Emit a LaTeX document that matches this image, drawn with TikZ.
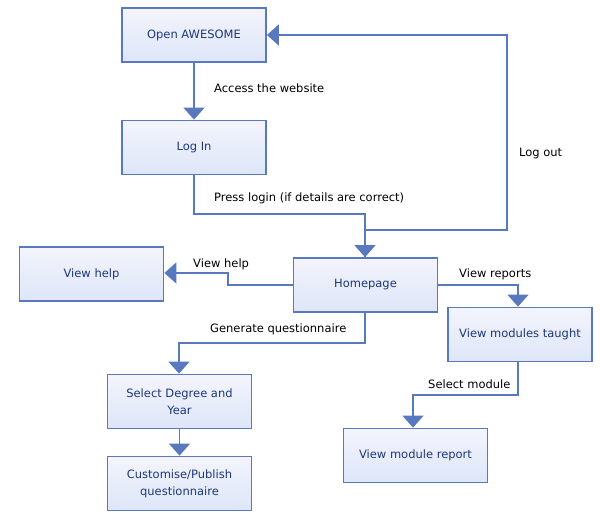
\documentclass[tikz,border=0pt]{standalone}
\usepackage{fontspec}
\setmainfont{DejaVu Sans}
\usetikzlibrary{arrows.meta}
\definecolor{bordc}{RGB}{88,120,192}
\definecolor{txtc}{RGB}{28,56,120}
\definecolor{topc}{RGB}{244,244,252}
\definecolor{botc}{RGB}{221,230,248}
\tikzset{
  box/.style={draw=bordc, line width=1.8pt, top color=topc, bottom color=botc,
    minimum width=144pt, minimum height=54pt, inner sep=0pt, align=center,
    text=txtc, font=\fontsize{11.5}{17}\selectfont},
  conn/.style={draw=bordc, line width=1.6pt, -{Triangle[length=12pt,width=21pt]}},
  lab/.style={font=\fontsize{11.5}{14}\selectfont, text=black, inner sep=0pt}
}
\begin{document}
\begin{tikzpicture}[x=1pt,y=-1pt]
\useasboundingbox (0,0) rectangle (600,522);
\node[box] (open) at (194,35) {Open AWESOME};
\node[box] (login) at (194,147.5) {Log In};
\node[box] (home) at (365.5,285) {Homepage};
\node[box] (help) at (91.5,274) {View help};
\node[box] (mods) at (520,334.5) {View modules taught};
\node[box] (sel) at (179.5,401.5) {Select Degree and\\Year};
\node[box] (cust) at (179.5,483.5) {Customise/Publish\\questionnaire};
\node[box] (rep) at (415.5,455.5) {View module report};

\coordinate (c1) at (194,214);
\coordinate (c2) at (365,214);
\coordinate (d1) at (365,230);
\coordinate (d2) at (507,230);
\coordinate (d3) at (507,35);
\coordinate (h1) at (228,285);
\coordinate (h2) at (228,273);
\coordinate (g1) at (365,343);
\coordinate (g2) at (179,343);
\coordinate (r1) at (518,285);
\coordinate (s1) at (518,395);
\coordinate (s2) at (413,395);

\draw[conn] (open.south) -- (login.north);
\draw[conn] (login.south) -- (c1) -- (c2) -- (home.north -| c2);
\draw[conn] (home.north -| d1) -- (d1) -- (d2) -- (d3) -- (open.east);
\draw[conn] (home.west) -- (h1) -- (h2) -- (help.east |- h2);
\draw[conn] (home.south -| g1) -- (g1) -- (g2) -- (sel.north -| g2);
\draw[conn] (home.east |- r1) -- (r1) -- (mods.north -| r1);
\draw[conn] (mods.south -| s1) -- (s1) -- (s2) -- (rep.north -| s2);
\draw[conn] (sel.south) -- (cust.north);

\node[lab, anchor=west] (l1) at (214,88) {Access the website};
\node[lab, anchor=west] (l2) at (214,198) {Press login (if details are correct)};
\node[lab, anchor=west] (l3) at (519,154) {Log out};
\node[lab, anchor=west] (l4) at (193,264) {View help};
\node[lab, anchor=west] (l5) at (210,329) {Generate questionnaire};
\node[lab, anchor=west] (l6) at (459,274) {View reports};
\node[lab, anchor=west] (l7) at (428,384) {Select module};
\end{tikzpicture}
\end{document}
